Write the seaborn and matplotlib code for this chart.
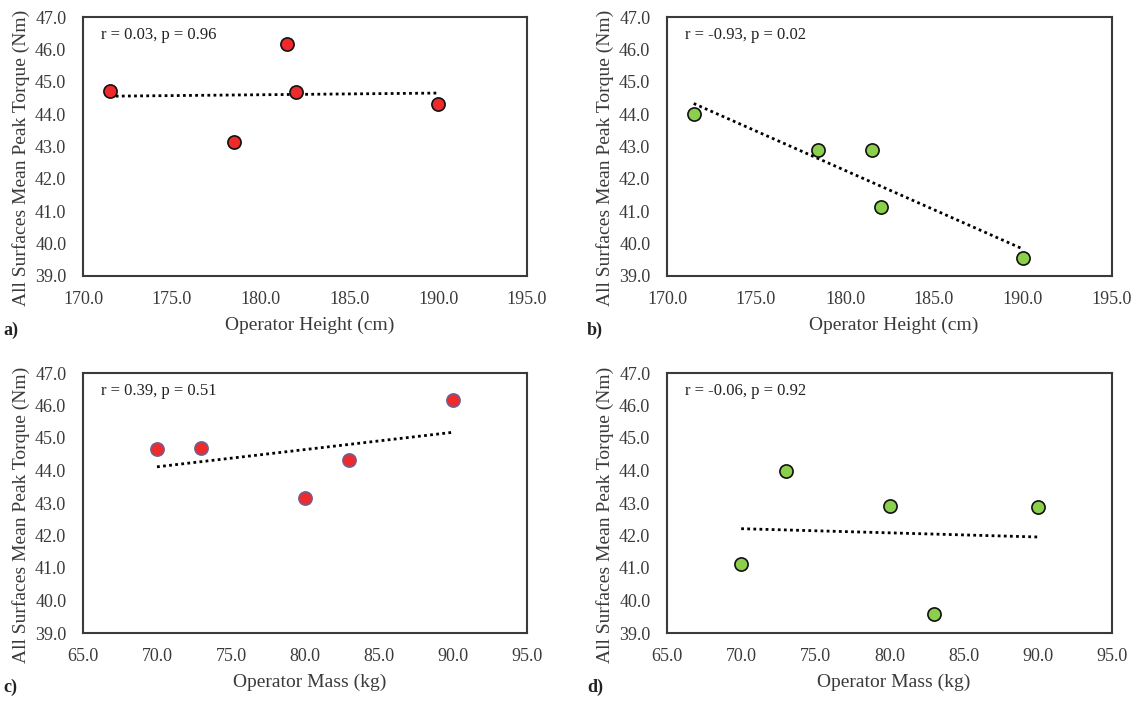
import matplotlib
matplotlib.use("Agg")
import matplotlib.pyplot as plt
import seaborn as sns
import numpy as np
import pandas as pd

# Data
height_cm = [171.5, 178.5, 181.5, 182.0, 190.0]
mass_kg = [70.0, 73.0, 80.0, 83.0, 90.0]
torque_red_h = [44.70, 43.15, 46.18, 44.67, 44.31]
torque_green_h = [43.99, 42.90, 42.88, 41.12, 39.57]
torque_red_m = [44.67, 44.70, 43.15, 44.31, 46.18]
torque_green_m = [41.12, 43.99, 42.90, 39.57, 42.88]

stats_text = ["r = 0.03, p = 0.96", "r = -0.93, p = 0.02",
              "r = 0.39, p = 0.51", "r = -0.06, p = 0.92"]
panel_tags = ["a)", "b)", "c)", "d)"]
x_labels = ["Operator Height (cm)", "Operator Height (cm)",
            "Operator Mass (kg)", "Operator Mass (kg)"]
y_label = "All Surfaces Mean Peak Torque (Nm)"

sns.set_theme(style="white")
plt.rcParams['font.family'] = ['Liberation Serif', 'DejaVu Serif']

fig = plt.figure(figsize=(11.36, 7.05), dpi=100)
W, H = 1136, 705
# axes boxes in pixels: left, top, right, bottom
boxes = [(83, 17, 527, 276), (667, 17, 1112, 276),
         (83, 373, 527, 633), (667, 373, 1112, 633)]

panels = [
    (height_cm, torque_red_h, "#ee2a2a", "#111111", (170, 195)),
    (height_cm, torque_green_h, "#8ccf4d", "#111111", (170, 195)),
    (mass_kg, torque_red_m, "#ee2a2a", "#6f5f96", (65, 95)),
    (mass_kg, torque_green_m, "#8ccf4d", "#111111", (65, 95)),
]

txt = "#3a3a3a"
for i, (x, y, fc, ec, xlim) in enumerate(panels):
    l, t, r, b = boxes[i]
    ax = fig.add_axes([l / W, 1 - b / H, (r - l) / W, (b - t) / H])
    df = pd.DataFrame({"x": x, "y": y})
    sns.regplot(data=df, x="x", y="y", ax=ax, ci=None,
                scatter_kws={"s": 90, "color": fc, "edgecolor": ec,
                             "linewidths": 1.2, "alpha": 1, "zorder": 3},
                line_kws={"color": "black", "linestyle": (0, (1, 1.2)),
                          "linewidth": 2, "zorder": 2})
    ax.set_xlim(*xlim)
    ax.set_ylim(39, 47)
    ax.set_xticks(np.arange(xlim[0], xlim[1] + 0.1, 5))
    ax.set_yticks(np.arange(39, 47.1, 1))
    ax.xaxis.set_major_formatter(matplotlib.ticker.FormatStrFormatter("%.1f"))
    ax.yaxis.set_major_formatter(matplotlib.ticker.FormatStrFormatter("%.1f"))
    ax.tick_params(axis="x", length=0, labelsize=13, colors=txt, pad=11)
    ax.tick_params(axis="y", length=0, labelsize=13, colors=txt, pad=12)
    for lbl in ax.get_xticklabels() + ax.get_yticklabels():
        lbl.set_fontfamily(['Liberation Serif', 'DejaVu Serif'])
    for s in ax.spines.values():
        s.set_color("#3a3a3a")
        s.set_linewidth(1.5)
    ax.set_xlabel(x_labels[i], fontsize=14, color=txt)
    ax.set_ylabel(y_label, fontsize=14, color=txt)
    ax.xaxis.set_label_coords(0.51, -0.19)
    ax.yaxis.set_label_coords(-0.14, 0.455)
    ax.xaxis.label.set_va("center")
    ax.yaxis.label.set_va("center")
    ax.text(0.04, 0.93, stats_text[i], transform=ax.transAxes,
            fontsize=12, color="#222222", va="center", ha="left")
    fig.text((l - 80) / W, 1 - (b + 54) / H, panel_tags[i],
             fontsize=13, fontweight="bold", color="#222222", va="center")

fig.savefig("out.png", dpi=100)
